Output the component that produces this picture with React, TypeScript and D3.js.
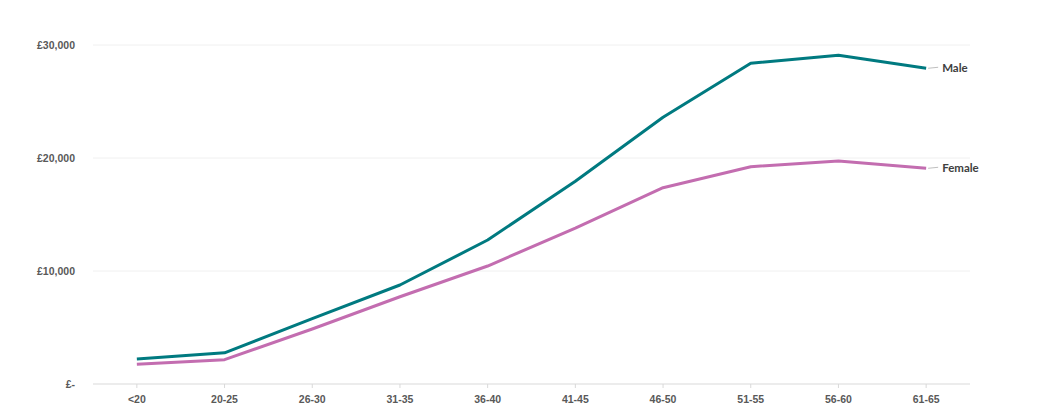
import React from 'react';
import * as d3 from 'd3';

const ageBands = ['<20', '20-25', '26-30', '31-35', '36-40', '41-45', '46-50', '51-55', '56-60', '61-65'];
const maleValues = [2210, 2760, 5780, 8760, 12740, 17950, 23600, 28380, 29090, 27940];
const femaleValues = [1740, 2150, 4870, 7720, 10440, 13800, 17370, 19230, 19730, 19090];
const yTicks = [0, 10000, 20000, 30000];

const width = 1048;
const height = 415;
const margin = { top: 45, right: 78, bottom: 31, left: 93 };

const series = [
  { name: 'Male', values: maleValues, color: '#007A80' },
  { name: 'Female', values: femaleValues, color: '#C36DB0' },
];

const App: React.FC = () => {
  const x = d3.scaleBand<string>()
    .domain(ageBands)
    .range([margin.left, width - margin.right]);

  const y = d3.scaleLinear()
    .domain([0, 30000])
    .range([height - margin.bottom, margin.top]);

  const cx = (d: string) => (x(d) || 0) + x.bandwidth() / 2;

  const line = d3.line<number>()
    .x((_, i) => cx(ageBands[i]))
    .y(d => y(d));

  const fmt = (v: number) => (v === 0 ? '£-' : '£' + d3.format(',')(v));
  const axisFont = '"Liberation Sans", Arial, sans-serif';

  return (
    <svg width={width} height={height} style={{ display: 'block', position: 'absolute', left: 0, top: 0 }}>
      <rect width={width} height={height} fill="#ffffff" />

      {/* gridlines */}
      {yTicks.filter(t => t > 0).map(t => (
        <line key={t} x1={margin.left} x2={width - margin.right} y1={y(t)} y2={y(t)}
          stroke="#f0f0f0" strokeWidth={1} />
      ))}

      {/* y labels */}
      {yTicks.map(t => (
        <text key={t} x={75} y={y(t)} dy="0.35em" textAnchor="end"
          fontFamily={axisFont} fontWeight="bold" fontSize={10.5} fill="#595959">
          {fmt(t)}
        </text>
      ))}

      {/* x axis */}
      <line x1={margin.left} x2={width - margin.right} y1={y(0)} y2={y(0)} stroke="#d9d9d9" strokeWidth={1.2} />
      {ageBands.map(b => (
        <g key={b}>
          <line x1={cx(b)} x2={cx(b)} y1={y(0)} y2={y(0) + 4} stroke="#d9d9d9" strokeWidth={1} />
          <text x={cx(b)} y={403} textAnchor="middle"
            fontFamily={axisFont} fontWeight="bold" fontSize={10.5} fill="#595959">
            {b}
          </text>
        </g>
      ))}

      {/* lines */}
      {series.map(s => (
        <path key={s.name} d={line(s.values) || ''} fill="none" stroke={s.color}
          strokeWidth={3} strokeLinejoin="round" />
      ))}

      {/* end labels */}
      {series.map(s => {
        const last = s.values[s.values.length - 1];
        const ex = cx(ageBands[ageBands.length - 1]);
        const ey = y(last);
        return (
          <g key={s.name + '-label'}>
            <line x1={ex + 2} x2={ex + 12} y1={ey} y2={ey - 1} stroke="#bfbfbf" strokeWidth={1} />
            <text x={ex + 16} y={ey} dy="0.35em" fontFamily='Lato, "Open Sans", sans-serif'
              fontWeight="bold" fontSize={11.5} fill="#404040">
              {s.name}
            </text>
          </g>
        );
      })}
    </svg>
  );
};

export default App;
